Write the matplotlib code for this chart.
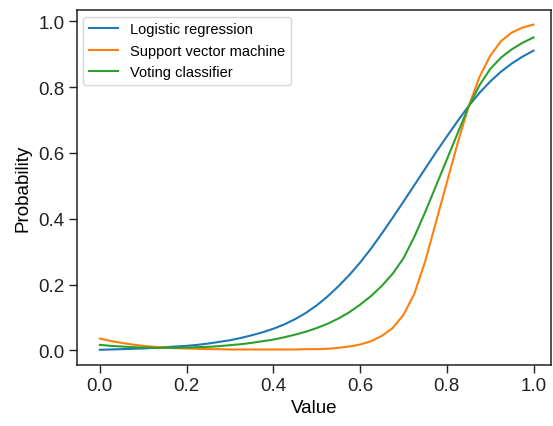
import matplotlib
matplotlib.use("Agg")
import matplotlib.pyplot as plt
import numpy as np

plt.rcParams["font.family"] = ["Liberation Sans", "DejaVu Sans"]

# valores, paso 0.025
value = np.round(np.arange(0, 41) * 0.025, 3)

logistic = [0.002, 0.003, 0.004, 0.005, 0.006, 0.008, 0.010, 0.012, 0.014, 0.017,
            0.021, 0.026, 0.031, 0.038, 0.046, 0.055, 0.066, 0.079, 0.095, 0.114,
            0.137, 0.164, 0.195, 0.229, 0.267, 0.309, 0.355, 0.403, 0.452, 0.502,
            0.552, 0.602, 0.650, 0.697, 0.742, 0.782, 0.817, 0.847, 0.872, 0.893,
            0.911]

svm = [0.036, 0.029, 0.023, 0.018, 0.014, 0.011, 0.009, 0.007, 0.006, 0.005,
       0.004, 0.004, 0.003, 0.003, 0.003, 0.003, 0.003, 0.003, 0.003, 0.004,
       0.004, 0.005, 0.008, 0.012, 0.018, 0.028, 0.044, 0.068, 0.108, 0.172,
       0.270, 0.390, 0.510, 0.630, 0.740, 0.830, 0.895, 0.940, 0.966, 0.981,
       0.990]

voting = [0.017, 0.014, 0.012, 0.010, 0.009, 0.008, 0.008, 0.008, 0.009, 0.010,
          0.011, 0.013, 0.016, 0.019, 0.023, 0.028, 0.033, 0.040, 0.048, 0.057,
          0.068, 0.081, 0.097, 0.116, 0.139, 0.165, 0.196, 0.233, 0.280, 0.345,
          0.420, 0.500, 0.580, 0.660, 0.740, 0.805, 0.855, 0.890, 0.915, 0.935,
          0.951]

fig = plt.figure(figsize=(5.53, 4.27), dpi=100)
ax = fig.add_axes([0.139, 0.143, 0.858, 0.831])

ax.plot(value, logistic, color="#1f77b4", lw=1.5, label="Logistic regression")
ax.plot(value, svm, color="#ff7f0e", lw=1.5, label="Support vector machine")
ax.plot(value, voting, color="#2ca02c", lw=1.5, label="Voting classifier")

ax.set_xlim(-0.053, 1.041)
ax.set_ylim(-0.044, 1.034)
ax.set_xticks([0.0, 0.2, 0.4, 0.6, 0.8, 1.0])
ax.set_yticks([0.0, 0.2, 0.4, 0.6, 0.8, 1.0])
ax.tick_params(labelsize=13.5, length=5.5, width=1.0, colors="#222222")
for s in ax.spines.values():
    s.set_linewidth(1.1)
    s.set_color("#222222")

ax.set_xlabel("Value", fontsize=13.5, labelpad=3)
ax.set_ylabel("Probability", fontsize=13.5, labelpad=5)
ax.legend(loc="upper left", fontsize=10.5, handlelength=2.0, borderaxespad=0.45)

fig.savefig("out.png", dpi=100)
